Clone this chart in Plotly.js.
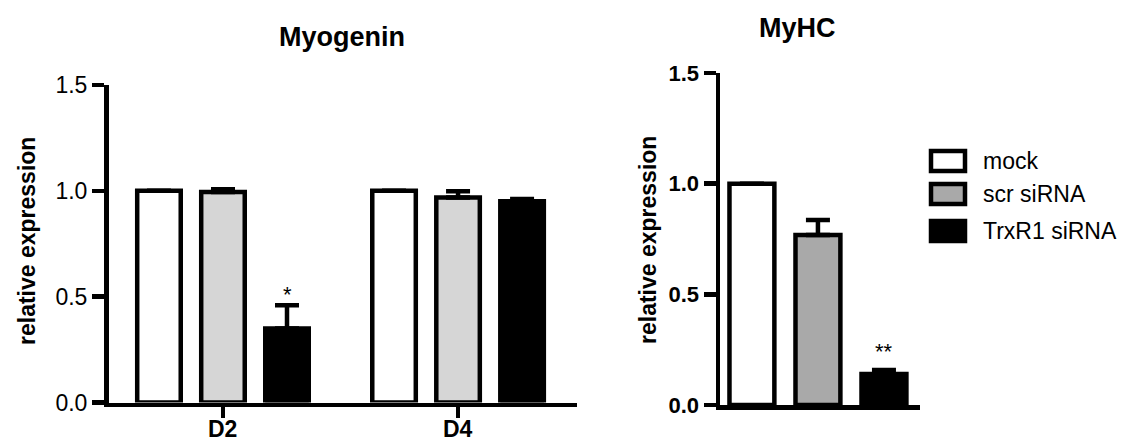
<!DOCTYPE html>
<html><head><meta charset="utf-8">
<script src="https://cdn.plot.ly/plotly-3.0.1.min.js"></script>
<style>html,body{margin:0;padding:0;background:#fff}#chart{width:1128px;height:445px}</style>
</head><body><div id="chart"></div>
<script>
// ---- data ----
const seriesNames = ['mock', 'scr siRNA', 'TrxR1 siRNA'];
const myogeninDays = ['D2', 'D4'];
const myogeninMock = [1.0, 1.0];
const myogeninMockErr = [0, 0];
const myogeninScr = [0.995, 0.968];
const myogeninScrErr = [0.012, 0.03];
const myogeninTrx = [0.35, 0.951];
const myogeninTrxErr = [0.11, 0.011];
const myogeninTrxSig = ['*', ''];

const myhcGroup = [''];
const myhcMock = [1.0];
const myhcMockErr = [0];
const myhcScr = [0.768];
const myhcScrErr = [0.068];
const myhcTrx = [0.14];
const myhcTrxErr = [0.018];
const myhcTrxSig = ['**'];

const yTicks = [0, 0.5, 1.0, 1.5];
const yTickText = ['0.0', '0.5', '1.0', '1.5'];
const titles = ['Myogenin', 'MyHC'];
const yTitle = 'relative expression';

const leftColors = ['#ffffff', '#d6d6d6', '#000000'];
const rightColors = ['#ffffff', '#a9a9a9', '#000000'];

// ---- styling ----
const W = 1128, H = 445;
const FONT = 'Liberation Sans, Arial, Helvetica, sans-serif';
const LW = 4.5;
const BARGAP = 0.183, GROUPGAP = 0.32;
const px = x => x / W;
const py = y => (H - y) / H;

function barTrace(x, y, err, color, xa, ya, name) {
  return {
    type: 'bar', x: x, y: y, name: name, xaxis: xa, yaxis: ya,
    marker: {color: color, line: {color: '#000', width: LW}},
    error_y: {type: 'data', symmetric: false, array: err, arrayminus: err.map(() => 0),
              color: '#000', thickness: LW, width: 12},
    showlegend: false, hoverinfo: 'skip'
  };
}

const leftVals = [[myogeninMock, myogeninMockErr], [myogeninScr, myogeninScrErr], [myogeninTrx, myogeninTrxErr]];
const rightVals = [[myhcMock, myhcMockErr], [myhcScr, myhcScrErr], [myhcTrx, myhcTrxErr]];

const data = [];
leftVals.forEach((v, k) => data.push(barTrace(myogeninDays, v[0], v[1], leftColors[k], 'x', 'y', seriesNames[k])));
rightVals.forEach((v, k) => data.push(barTrace(myhcGroup, v[0], v[1], rightColors[k], 'x2', 'y2', seriesNames[k])));

const slot = (1 - BARGAP) / 3;
const annotations = [];
// significance marks
myogeninTrxSig.forEach((s, i) => {
  if (!s) return;
  annotations.push({xref: 'x', yref: 'y', x: i + slot, y: myogeninTrx[i] + myogeninTrxErr[i],
    text: s, showarrow: false, yanchor: 'bottom', yshift: -4, font: {family: FONT, size: 22, color: '#000'}});
});
myhcTrxSig.forEach((s, i) => {
  if (!s) return;
  annotations.push({xref: 'x2', yref: 'y2', x: i + slot, y: myhcTrx[i] + myhcTrxErr[i],
    text: s, showarrow: false, yanchor: 'bottom', yshift: 4, font: {family: FONT, size: 22, color: '#000'}});
});
// category labels under the left chart
myogeninDays.forEach((d, i) => {
  annotations.push({xref: 'x', yref: 'paper', x: i, y: py(429), text: d, showarrow: false,
    xanchor: 'center', yanchor: 'middle', font: {family: FONT, size: 23, weight: 'bold', color: '#000'}});
});
// titles
annotations.push({xref: 'paper', yref: 'paper', x: px(342), y: py(37), text: titles[0], showarrow: false,
  xanchor: 'center', yanchor: 'middle', font: {family: FONT, size: 27, weight: 'bold', color: '#000'}});
annotations.push({xref: 'paper', yref: 'paper', x: px(797), y: py(28), text: titles[1], showarrow: false,
  xanchor: 'center', yanchor: 'middle', font: {family: FONT, size: 27, weight: 'bold', color: '#000'}});
// y titles
annotations.push({xref: 'paper', yref: 'paper', x: px(27), y: py(241), text: yTitle, textangle: -90, showarrow: false,
  xanchor: 'center', yanchor: 'middle', font: {family: FONT, size: 23, weight: 'bold', color: '#000'}});
annotations.push({xref: 'paper', yref: 'paper', x: px(648), y: py(240), text: yTitle, textangle: -90, showarrow: false,
  xanchor: 'center', yanchor: 'middle', font: {family: FONT, size: 23, weight: 'bold', color: '#000'}});

// custom legend
const legendY = [161, 194, 231];
const shapes = [];
seriesNames.forEach((n, k) => {
  shapes.push({type: 'rect', xref: 'paper', yref: 'paper', x0: px(931), x1: px(965),
    y0: py(legendY[k] - 10), y1: py(legendY[k] + 10),
    fillcolor: rightColors[k], line: {color: '#000', width: LW}});
  annotations.push({xref: 'paper', yref: 'paper', x: px(981), y: py(legendY[k]), text: n, showarrow: false,
    xanchor: 'left', yanchor: 'middle', font: {family: FONT, size: 23, color: '#000'}});
});

const baseY = {range: [0, 1.5], tickvals: yTicks, ticktext: yTickText, ticks: 'outside', ticklen: 12,
  tickwidth: LW, tickcolor: '#000', showline: true, linewidth: LW, linecolor: '#000',
  showgrid: false, zeroline: false, fixedrange: true};

const layout = {
  width: W, height: H, margin: {l: 0, r: 0, t: 0, b: 0}, paper_bgcolor: '#fff', plot_bgcolor: 'rgba(0,0,0,0)',
  barmode: 'group', bargap: BARGAP, bargroupgap: GROUPGAP, showlegend: false,
  font: {family: FONT, color: '#000'},
  xaxis: {domain: [px(108.5), px(577)], anchor: 'y', type: 'category', range: [-0.487, 1.506],
    ticks: 'outside', ticklen: 11, tickwidth: LW, tickcolor: '#000', showline: true, linewidth: LW, linecolor: '#000',
    showticklabels: false, showgrid: false, zeroline: false, fixedrange: true},
  yaxis: Object.assign({}, baseY, {domain: [py(402.5), py(85)], anchor: 'x',
    tickfont: {family: FONT, size: 23, color: '#000'}}),
  xaxis2: {domain: [px(720), px(920)], anchor: 'y2', type: 'category', range: [-0.404, 0.421],
    ticks: '', showticklabels: false, showline: true, linewidth: LW, linecolor: '#000',
    showgrid: false, zeroline: false, fixedrange: true},
  yaxis2: Object.assign({}, baseY, {domain: [py(405), py(73)], anchor: 'x2',
    tickfont: {family: FONT, size: 22, weight: 'bold', color: '#000'}}),
  annotations: annotations,
  shapes: shapes
};

Plotly.newPlot('chart', data, layout, {staticPlot: true, displayModeBar: false});
</script>
</body></html>
